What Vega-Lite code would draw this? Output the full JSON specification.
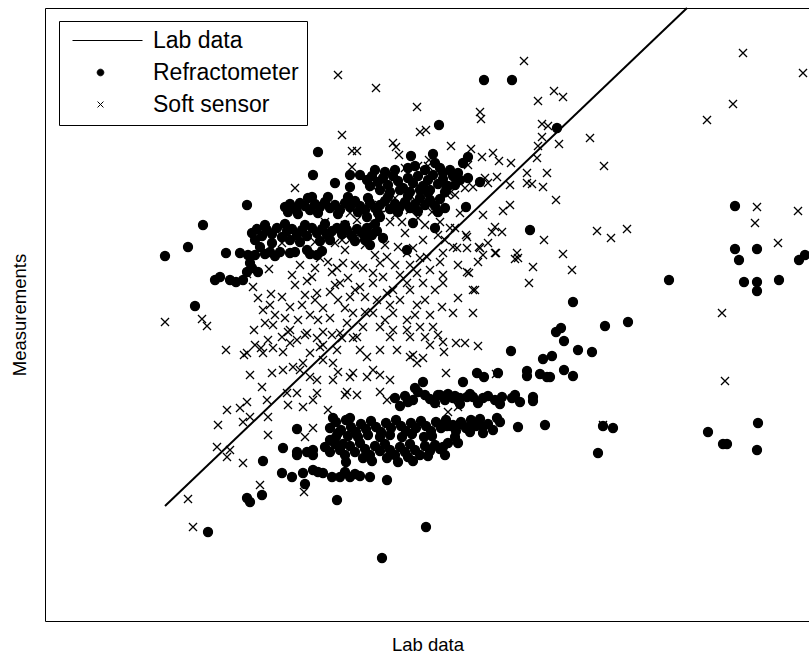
{
  "$schema": "https://vega.github.io/schema/vega-lite/v6.json",
  "autosize": {"type": "none"},
  "padding": {"left": 45, "top": 8, "right": 0, "bottom": 37},
  "width": 765,
  "height": 613,
  "background": "white",
  "config": {
    "view": {"stroke": "black", "strokeWidth": 1},
    "axis": {
      "labels": false, "ticks": false, "domain": false, "grid": false,
      "titleFont": "Liberation Sans", "titleFontSize": 18.5, "titleFontWeight": "normal", "titleColor": "black"
    }
  },
  "datasets": {
    "labLine": [
      {"lab": 165, "meas": 115}, {"lab": 687, "meas": 613}
    ],
    "refractometer": [
      {"lab":484,"meas":541},{"lab":512,"meas":541},{"lab":557,"meas":493},{"lab":439,"meas":496},
      {"lab":735,"meas":415},{"lab":735,"meas":372},{"lab":757,"meas":372},{"lab":739,"meas":361},
      {"lab":744,"meas":339},{"lab":757,"meas":339},{"lab":757,"meas":330},{"lab":779,"meas":341},
      {"lab":799,"meas":361},{"lab":805,"meas":366},{"lab":669,"meas":341},{"lab":573,"meas":319},
      {"lab":628,"meas":299},{"lab":605,"meas":295},{"lab":561,"meas":293},{"lab":556,"meas":289},
      {"lab":564,"meas":280},{"lab":578,"meas":271},{"lab":592,"meas":269},{"lab":511,"meas":270},
      {"lab":543,"meas":262},{"lab":552,"meas":265},{"lab":564,"meas":251},{"lab":573,"meas":245},
      {"lab":527,"meas":250},{"lab":527,"meas":245},{"lab":540,"meas":247},{"lab":547,"meas":244},
      {"lab":550,"meas":244},{"lab":477,"meas":248},{"lab":484,"meas":244},{"lab":498,"meas":248},
      {"lab":463,"meas":239},{"lab":533,"meas":224},{"lab":533,"meas":220},{"lab":512,"meas":223},
      {"lab":502,"meas":224},{"lab":495,"meas":221},{"lab":483,"meas":223},{"lab":473,"meas":224},
      {"lab":467,"meas":224},{"lab":460,"meas":223},{"lab":453,"meas":223},{"lab":448,"meas":227},
      {"lab":440,"meas":226},{"lab":497,"meas":203},{"lab":480,"meas":202},{"lab":483,"meas":194},
      {"lab":483,"meas":188},{"lab":468,"meas":194},{"lab":460,"meas":197},{"lab":453,"meas":196},
      {"lab":447,"meas":195},{"lab":440,"meas":196},{"lab":518,"meas":194},{"lab":545,"meas":196},
      {"lab":443,"meas":174},{"lab":603,"meas":195},{"lab":613,"meas":193},{"lab":598,"meas":168},
      {"lab":708,"meas":189},{"lab":723,"meas":177},{"lab":727,"meas":177},{"lab":758,"meas":198},
      {"lab":757,"meas":171},{"lab":530,"meas":391},{"lab":463,"meas":458},{"lab":468,"meas":464},
      {"lab":443,"meas":448},{"lab":458,"meas":448},{"lab":468,"meas":443},{"lab":480,"meas":439},
      {"lab":445,"meas":413},{"lab":466,"meas":414},{"lab":447,"meas":434},{"lab":411,"meas":465},
      {"lab":433,"meas":467},{"lab":318,"meas":469},{"lab":313,"meas":446},{"lab":335,"meas":438},
      {"lab":350,"meas":446},{"lab":360,"meas":446},{"lab":350,"meas":434},{"lab":247,"meas":416},
      {"lab":203,"meas":396},{"lab":165,"meas":365},{"lab":188,"meas":374},{"lab":226,"meas":368},
      {"lab":240,"meas":368},{"lab":220,"meas":344},{"lab":230,"meas":341},{"lab":243,"meas":341},
      {"lab":247,"meas":349},{"lab":250,"meas":358},{"lab":248,"meas":366},{"lab":195,"meas":315},
      {"lab":260,"meas":374},{"lab":270,"meas":369},{"lab":280,"meas":369},{"lab":290,"meas":368},
      {"lab":307,"meas":371},{"lab":317,"meas":366},{"lab":258,"meas":349},{"lab":312,"meas":424},
      {"lab":255,"meas":366},{"lab":265,"meas":367},{"lab":275,"meas":365},{"lab":295,"meas":369},
      {"lab":310,"meas":367},{"lab":322,"meas":370},{"lab":215,"meas":341},{"lab":236,"meas":339},
      {"lab":252,"meas":353},
      {"lab":367,"meas":441},{"lab":372,"meas":445},{"lab":378,"meas":439},{"lab":383,"meas":443},
      {"lab":388,"meas":436},{"lab":393,"meas":445},{"lab":398,"meas":440},{"lab":403,"meas":433},
      {"lab":408,"meas":443},{"lab":413,"meas":438},{"lab":418,"meas":445},{"lab":423,"meas":435},
      {"lab":428,"meas":441},{"lab":433,"meas":446},{"lab":438,"meas":437},{"lab":443,"meas":442},
      {"lab":448,"meas":435},{"lab":453,"meas":445},{"lab":400,"meas":431},{"lab":420,"meas":431},
      {"lab":385,"meas":449},{"lab":395,"meas":451},{"lab":408,"meas":453},{"lab":425,"meas":451},
      {"lab":440,"meas":453},
      {"lab":370,"meas":435},{"lab":380,"meas":431},{"lab":390,"meas":429},{"lab":410,"meas":429},
      {"lab":430,"meas":431},{"lab":445,"meas":429},{"lab":455,"meas":436},{"lab":460,"meas":441},
      {"lab":375,"meas":451},{"lab":415,"meas":455},{"lab":435,"meas":458},{"lab":450,"meas":451},
      {"lab":285,"meas":414},{"lab":290,"meas":417},{"lab":296,"meas":412},{"lab":300,"meas":418},
      {"lab":305,"meas":415},{"lab":310,"meas":411},{"lab":315,"meas":417},{"lab":320,"meas":414},
      {"lab":325,"meas":419},{"lab":330,"meas":413},{"lab":335,"meas":416},{"lab":340,"meas":411},
      {"lab":345,"meas":418},{"lab":350,"meas":414},{"lab":355,"meas":420},{"lab":360,"meas":415},
      {"lab":365,"meas":411},{"lab":370,"meas":418},{"lab":375,"meas":413},{"lab":380,"meas":416},
      {"lab":385,"meas":420},{"lab":390,"meas":412},{"lab":395,"meas":417},{"lab":400,"meas":414},
      {"lab":405,"meas":419},{"lab":410,"meas":413},{"lab":415,"meas":417},{"lab":420,"meas":423},
      {"lab":425,"meas":416},{"lab":430,"meas":421},{"lab":435,"meas":415},{"lab":440,"meas":422},
      {"lab":288,"meas":409},{"lab":298,"meas":407},{"lab":308,"meas":423},{"lab":318,"meas":408},
      {"lab":328,"meas":424},{"lab":338,"meas":407},{"lab":348,"meas":424},{"lab":358,"meas":409},
      {"lab":368,"meas":423},{"lab":378,"meas":408},{"lab":388,"meas":424},{"lab":398,"meas":409},
      {"lab":408,"meas":425},{"lab":418,"meas":410},{"lab":428,"meas":428},{"lab":438,"meas":409},
      {"lab":367,"meas":404},{"lab":380,"meas":404},{"lab":368,"meas":384},{"lab":383,"meas":383},
      {"lab":413,"meas":398},{"lab":435,"meas":393},{"lab":407,"meas":371},{"lab":370,"meas":376},
      {"lab":252,"meas":388},{"lab":257,"meas":392},{"lab":262,"meas":385},{"lab":267,"meas":391},
      {"lab":272,"meas":387},{"lab":277,"meas":393},{"lab":282,"meas":384},{"lab":287,"meas":390},
      {"lab":292,"meas":392},{"lab":297,"meas":386},{"lab":302,"meas":391},{"lab":307,"meas":385},
      {"lab":312,"meas":393},{"lab":317,"meas":388},{"lab":322,"meas":392},{"lab":327,"meas":386},
      {"lab":332,"meas":390},{"lab":337,"meas":393},{"lab":342,"meas":387},{"lab":347,"meas":391},
      {"lab":352,"meas":385},{"lab":357,"meas":392},{"lab":362,"meas":388},{"lab":367,"meas":393},
      {"lab":372,"meas":386},{"lab":377,"meas":390},{"lab":272,"meas":378},{"lab":300,"meas":379},
      {"lab":330,"meas":381},{"lab":355,"meas":380},
      {"lab":255,"meas":381},{"lab":265,"meas":396},{"lab":285,"meas":397},{"lab":305,"meas":396},
      {"lab":325,"meas":397},{"lab":345,"meas":396},{"lab":365,"meas":381},{"lab":375,"meas":397},
      {"lab":290,"meas":381},{"lab":320,"meas":380},
      {"lab":395,"meas":223},{"lab":400,"meas":215},{"lab":413,"meas":221},{"lab":425,"meas":226},
      {"lab":438,"meas":226},{"lab":405,"meas":225},{"lab":418,"meas":229},{"lab":430,"meas":222},
      {"lab":445,"meas":221},{"lab":455,"meas":225},{"lab":470,"meas":227},{"lab":488,"meas":225},
      {"lab":423,"meas":239},{"lab":415,"meas":233},
      {"lab":408,"meas":219},{"lab":435,"meas":218},{"lab":460,"meas":217},{"lab":478,"meas":218},
      {"lab":500,"meas":217},{"lab":515,"meas":226},{"lab":520,"meas":219},
      {"lab":330,"meas":193},{"lab":336,"meas":199},{"lab":341,"meas":191},{"lab":346,"meas":201},
      {"lab":351,"meas":194},{"lab":356,"meas":189},{"lab":361,"meas":197},{"lab":366,"meas":192},
      {"lab":371,"meas":200},{"lab":376,"meas":194},{"lab":381,"meas":189},{"lab":386,"meas":198},
      {"lab":391,"meas":193},{"lab":396,"meas":201},{"lab":401,"meas":195},{"lab":406,"meas":190},
      {"lab":411,"meas":198},{"lab":416,"meas":193},{"lab":421,"meas":200},{"lab":426,"meas":195},
      {"lab":431,"meas":190},{"lab":436,"meas":199},{"lab":441,"meas":193},{"lab":446,"meas":201},
      {"lab":451,"meas":195},{"lab":456,"meas":190},{"lab":461,"meas":199},{"lab":466,"meas":193},
      {"lab":471,"meas":201},{"lab":476,"meas":195},{"lab":488,"meas":197},{"lab":493,"meas":191},
      {"lab":500,"meas":199},{"lab":333,"meas":203},{"lab":350,"meas":203},
      {"lab":338,"meas":188},{"lab":348,"meas":185},{"lab":368,"meas":186},{"lab":390,"meas":186},
      {"lab":412,"meas":187},{"lab":432,"meas":185},{"lab":455,"meas":184},{"lab":470,"meas":189},
      {"lab":325,"meas":174},{"lab":330,"meas":169},{"lab":335,"meas":177},{"lab":340,"meas":171},
      {"lab":345,"meas":166},{"lab":350,"meas":175},{"lab":355,"meas":169},{"lab":360,"meas":178},
      {"lab":365,"meas":172},{"lab":370,"meas":166},{"lab":375,"meas":175},{"lab":380,"meas":170},
      {"lab":385,"meas":177},{"lab":390,"meas":171},{"lab":395,"meas":166},{"lab":400,"meas":174},
      {"lab":405,"meas":169},{"lab":410,"meas":177},{"lab":415,"meas":171},{"lab":420,"meas":166},
      {"lab":425,"meas":175},{"lab":430,"meas":170},{"lab":435,"meas":176},{"lab":440,"meas":172},
      {"lab":343,"meas":177},{"lab":363,"meas":163},{"lab":387,"meas":163},{"lab":408,"meas":164},
      {"lab":428,"meas":165},{"lab":445,"meas":166},{"lab":448,"meas":178},{"lab":458,"meas":178},
      {"lab":336,"meas":184},{"lab":358,"meas":184},{"lab":380,"meas":184},{"lab":402,"meas":184},
      {"lab":424,"meas":184},{"lab":346,"meas":159},{"lab":372,"meas":160},{"lab":398,"meas":159},
      {"lab":413,"meas":160},{"lab":330,"meas":181},{"lab":283,"meas":173},{"lab":297,"meas":192},
      {"lab":297,"meas":169},{"lab":307,"meas":169},{"lab":313,"meas":171},{"lab":313,"meas":151},
      {"lab":263,"meas":160},{"lab":297,"meas":166},{"lab":313,"meas":166},
      {"lab":282,"meas":148},{"lab":292,"meas":144},{"lab":303,"meas":148},{"lab":305,"meas":137},
      {"lab":323,"meas":148},{"lab":332,"meas":144},{"lab":340,"meas":144},{"lab":350,"meas":144},
      {"lab":360,"meas":145},{"lab":370,"meas":144},{"lab":387,"meas":141},{"lab":318,"meas":149},
      {"lab":345,"meas":149},{"lab":355,"meas":147},
      {"lab":247,"meas":123},{"lab":250,"meas":119},{"lab":262,"meas":126},{"lab":337,"meas":121},
      {"lab":426,"meas":94},{"lab":382,"meas":63},{"lab":208,"meas":89}
    ],
    "softSensor": [
      {"lab":743,"meas":568},{"lab":803,"meas":548},{"lab":733,"meas":517},{"lab":707,"meas":501},
      {"lab":590,"meas":483},{"lab":604,"meas":455},{"lab":524,"meas":560},{"lab":554,"meas":530},
      {"lab":563,"meas":524},{"lab":538,"meas":520},{"lab":480,"meas":509},{"lab":481,"meas":502},
      {"lab":542,"meas":497},{"lab":548,"meas":495},{"lab":542,"meas":484},{"lab":538,"meas":475},
      {"lab":559,"meas":477},{"lab":451,"meas":475},{"lab":471,"meas":472},{"lab":482,"meas":464},
      {"lab":493,"meas":468},{"lab":499,"meas":460},{"lab":511,"meas":458},{"lab":468,"meas":456},
      {"lab":527,"meas":448},{"lab":547,"meas":448},{"lab":497,"meas":444},{"lab":488,"meas":438},
      {"lab":510,"meas":436},{"lab":527,"meas":438},{"lab":532,"meas":437},{"lab":543,"meas":434},
      {"lab":556,"meas":421},{"lab":473,"meas":434},{"lab":757,"meas":414},{"lab":755,"meas":398},
      {"lab":798,"meas":410},{"lab":778,"meas":378},{"lab":597,"meas":390},{"lab":611,"meas":383},
      {"lab":627,"meas":392},{"lab":544,"meas":381},{"lab":563,"meas":367},{"lab":572,"meas":351},
      {"lab":533,"meas":354},{"lab":529,"meas":338},{"lab":722,"meas":308},{"lab":517,"meas":368},
      {"lab":515,"meas":362},{"lab":495,"meas":394},{"lab":502,"meas":389},{"lab":503,"meas":410},
      {"lab":510,"meas":416},{"lab":483,"meas":406},{"lab":460,"meas":408},{"lab":455,"meas":393},
      {"lab":466,"meas":386},{"lab":453,"meas":374},{"lab":467,"meas":373},{"lab":479,"meas":374},
      {"lab":488,"meas":378},{"lab":496,"meas":368},{"lab":483,"meas":366},{"lab":478,"meas":359},
      {"lab":458,"meas":356},{"lab":469,"meas":348},{"lab":473,"meas":331},{"lab":443,"meas":338},
      {"lab":458,"meas":323},{"lab":453,"meas":308},{"lab":473,"meas":308},{"lab":442,"meas":314},
      {"lab":725,"meas":240},{"lab":443,"meas":279},{"lab":456,"meas":278},{"lab":465,"meas":278},
      {"lab":478,"meas":275},{"lab":444,"meas":269},{"lab":446,"meas":248},{"lab":496,"meas":247},
      {"lab":448,"meas":209},{"lab":458,"meas":214},{"lab":603,"meas":196},
      {"lab":338,"meas":546},{"lab":376,"meas":533},{"lab":417,"meas":514},{"lab":342,"meas":486},
      {"lab":420,"meas":489},{"lab":426,"meas":491},{"lab":352,"meas":470},{"lab":357,"meas":470},
      {"lab":393,"meas":478},{"lab":396,"meas":474},{"lab":399,"meas":466},{"lab":537,"meas":463},
      {"lab":352,"meas":454},{"lab":418,"meas":455},{"lab":429,"meas":461},{"lab":428,"meas":455},
      {"lab":405,"meas":453},{"lab":485,"meas":443},{"lab":465,"meas":433},{"lab":420,"meas":433},
      {"lab":450,"meas":428},{"lab":373,"meas":434},{"lab":295,"meas":433},
      {"lab":447,"meas":426},{"lab":455,"meas":426},{"lab":492,"meas":389},{"lab":518,"meas":363},
      {"lab":475,"meas":331},{"lab":480,"meas":373},{"lab":495,"meas":368},{"lab":467,"meas":349},
      {"lab":440,"meas":359},{"lab":430,"meas":351},{"lab":427,"meas":364},{"lab":440,"meas":399},
      {"lab":467,"meas":384},{"lab":457,"meas":373},{"lab":443,"meas":368},{"lab":413,"meas":373},
      {"lab":423,"meas":381},{"lab":407,"meas":368},{"lab":433,"meas":294},{"lab":438,"meas":286},
      {"lab":425,"meas":284},{"lab":417,"meas":316},{"lab":407,"meas":301},{"lab":393,"meas":308},
      {"lab":387,"meas":328},{"lab":410,"meas":331},{"lab":380,"meas":358},{"lab":387,"meas":364},
      {"lab":398,"meas":374},{"lab":390,"meas":399},{"lab":405,"meas":388},{"lab":373,"meas":394},
      {"lab":360,"meas":388},{"lab":350,"meas":381},{"lab":345,"meas":371},{"lab":355,"meas":356},
      {"lab":363,"meas":353},{"lab":373,"meas":348},{"lab":383,"meas":344},{"lab":340,"meas":338},
      {"lab":360,"meas":334},{"lab":373,"meas":338},{"lab":350,"meas":324},{"lab":365,"meas":324},
      {"lab":377,"meas":321},{"lab":353,"meas":308},{"lab":373,"meas":308},{"lab":390,"meas":316},
      {"lab":407,"meas":291},{"lab":393,"meas":291},{"lab":380,"meas":294},{"lab":363,"meas":294},
      {"lab":347,"meas":298},{"lab":340,"meas":288},{"lab":357,"meas":284},{"lab":420,"meas":294},
      {"lab":390,"meas":284},{"lab":410,"meas":284},{"lab":443,"meas":346},{"lab":423,"meas":338},
      {"lab":417,"meas":348},{"lab":407,"meas":338},{"lab":393,"meas":331},
      {"lab":165,"meas":299},{"lab":202,"meas":302},{"lab":207,"meas":295},{"lab":254,"meas":291},
      {"lab":265,"meas":298},{"lab":273,"meas":296},{"lab":258,"meas":323},{"lab":270,"meas":316},
      {"lab":271,"meas":327},{"lab":282,"meas":324},{"lab":269,"meas":352},{"lab":253,"meas":334},
      {"lab":247,"meas":347},{"lab":307,"meas":340},{"lab":312,"meas":344},{"lab":317,"meas":328},
      {"lab":290,"meas":314},{"lab":302,"meas":316},{"lab":323,"meas":313},{"lab":332,"meas":349},
      {"lab":337,"meas":353},{"lab":343,"meas":358},{"lab":335,"meas":378},{"lab":342,"meas":381},
      {"lab":315,"meas":379},{"lab":282,"meas":378},{"lab":325,"meas":399},{"lab":290,"meas":291},
      {"lab":282,"meas":284},{"lab":307,"meas":288},{"lab":323,"meas":289},
      {"lab":226,"meas":271},{"lab":244,"meas":266},{"lab":247,"meas":268},{"lab":261,"meas":273},
      {"lab":263,"meas":268},{"lab":273,"meas":273},{"lab":283,"meas":269},{"lab":290,"meas":278},
      {"lab":297,"meas":281},{"lab":305,"meas":286},{"lab":317,"meas":283},{"lab":323,"meas":276},
      {"lab":332,"meas":286},{"lab":337,"meas":271},{"lab":342,"meas":283},{"lab":353,"meas":283},
      {"lab":360,"meas":271},{"lab":367,"meas":264},{"lab":380,"meas":271},{"lab":397,"meas":271},
      {"lab":413,"meas":266},{"lab":423,"meas":263},{"lab":430,"meas":276},{"lab":250,"meas":246},
      {"lab":272,"meas":248},{"lab":283,"meas":251},{"lab":293,"meas":254},{"lab":303,"meas":258},
      {"lab":310,"meas":244},{"lab":317,"meas":241},{"lab":333,"meas":241},{"lab":338,"meas":249},
      {"lab":350,"meas":244},{"lab":367,"meas":244},{"lab":373,"meas":251},{"lab":380,"meas":246},
      {"lab":390,"meas":241},{"lab":410,"meas":264},{"lab":417,"meas":258},{"lab":262,"meas":234},
      {"lab":267,"meas":221},{"lab":247,"meas":219},{"lab":240,"meas":213},{"lab":227,"meas":211},
      {"lab":218,"meas":196},{"lab":243,"meas":199},{"lab":250,"meas":204},{"lab":268,"meas":204},
      {"lab":268,"meas":186},{"lab":217,"meas":174},{"lab":230,"meas":171},{"lab":227,"meas":164},
      {"lab":243,"meas":158},{"lab":188,"meas":122},{"lab":193,"meas":94},{"lab":260,"meas":136},
      {"lab":304,"meas":129},{"lab":305,"meas":184},{"lab":313,"meas":193},{"lab":287,"meas":228},
      {"lab":297,"meas":228},{"lab":317,"meas":228},{"lab":345,"meas":226},{"lab":357,"meas":226},
      {"lab":328,"meas":211},{"lab":380,"meas":229},{"lab":387,"meas":221},{"lab":436,"meas":218},
      {"lab":288,"meas":216},{"lab":303,"meas":214},{"lab":313,"meas":221},{"lab":288,"meas":289},
      {"lab":310,"meas":268},{"lab":320,"meas":274},{"lab":323,"meas":261},{"lab":333,"meas":258},
      {"lab":353,"meas":248},{"lab":347,"meas":229},{"lab":300,"meas":251},
      {"lab":350,"meas":408},{"lab":357,"meas":401},{"lab":365,"meas":411},{"lab":372,"meas":416},
      {"lab":380,"meas":406},{"lab":388,"meas":413},{"lab":395,"meas":406},{"lab":402,"meas":399},
      {"lab":410,"meas":411},{"lab":418,"meas":403},{"lab":425,"meas":396},{"lab":432,"meas":409},
      {"lab":438,"meas":386},{"lab":445,"meas":381},{"lab":450,"meas":393},{"lab":395,"meas":423},
      {"lab":415,"meas":421},{"lab":430,"meas":426},{"lab":345,"meas":396},{"lab":330,"meas":389},
      {"lab":320,"meas":363},{"lab":328,"meas":359},{"lab":315,"meas":353},{"lab":300,"meas":356},
      {"lab":292,"meas":346},{"lab":295,"meas":336},{"lab":305,"meas":326},{"lab":315,"meas":321},
      {"lab":330,"meas":329},{"lab":338,"meas":321},{"lab":345,"meas":313},{"lab":330,"meas":303},
      {"lab":318,"meas":301},{"lab":310,"meas":306},{"lab":298,"meas":301},{"lab":285,"meas":303},
      {"lab":275,"meas":306},{"lab":263,"meas":311},{"lab":268,"meas":281},{"lab":255,"meas":276},
      {"lab":335,"meas":336},{"lab":348,"meas":343},{"lab":355,"meas":331},{"lab":365,"meas":309},
      {"lab":385,"meas":301},{"lab":400,"meas":321},{"lab":415,"meas":306},{"lab":425,"meas":321},
      {"lab":435,"meas":331},{"lab":430,"meas":306},{"lab":400,"meas":346},{"lab":410,"meas":356},
      {"lab":420,"meas":363},{"lab":395,"meas":356},{"lab":385,"meas":376},{"lab":375,"meas":366},
      {"lab":365,"meas":376},{"lab":370,"meas":389}
    ]
  },
  "layer": [
    {
      "data": {"name": "labLine"},
      "mark": {"type": "line", "color": "black", "strokeWidth": 2},
      "encoding": {
        "x": {"field": "lab", "type": "quantitative", "title": "Lab data",
              "scale": {"domain": [45, 810], "nice": false, "zero": false},
              "axis": {"titlePadding": 14}},
        "y": {"field": "meas", "type": "quantitative", "title": "Measurements",
              "scale": {"domain": [0, 613], "nice": false, "zero": false},
              "axis": {"titlePadding": 16}}
      }
    },
    {
      "data": {"name": "refractometer"},
      "mark": {"type": "point", "filled": true, "fill": "black", "stroke": "black", "strokeWidth": 1.2, "size": 169, "opacity": 1},
      "encoding": {
        "x": {"field": "lab", "type": "quantitative"},
        "y": {"field": "meas", "type": "quantitative"},
        "shape": {"datum": "Refractometer"}
      }
    },
    {
      "data": {"name": "softSensor"},
      "mark": {"type": "point", "filled": true, "fill": "black", "stroke": "black", "strokeWidth": 1.3, "size": 169, "opacity": 1},
      "encoding": {
        "x": {"field": "lab", "type": "quantitative"},
        "y": {"field": "meas", "type": "quantitative"},
        "shape": {
          "datum": "Soft sensor",
          "scale": {
            "domain": ["Lab data", "Refractometer", "Soft sensor"],
            "range": [
              "M-5.9,0H8.86",
              "M0.7,0A0.7,0.7,0,1,1,-0.7,0A0.7,0.7,0,1,1,0.7,0Z",
              "M-0.62,-0.62L0.62,0.62M-0.62,0.62L0.62,-0.62"
            ]
          },
          "legend": {
            "title": null,
            "orient": "none",
            "legendX": 14,
            "legendY": 13,
            "padding": 8,
            "strokeColor": "black",
            "fillColor": "white",
            "labelFont": "Liberation Sans",
            "labelFontSize": 23,
            "labelColor": "black",
            "symbolSize": 90,
            "symbolOffset": 22,
            "labelOffset": 41,
            "rowPadding": 8,
            "symbolStrokeWidth": 1,
            "symbolFillColor": "black",
            "symbolStrokeColor": "black"
          }
        }
      }
    }
  ]
}
